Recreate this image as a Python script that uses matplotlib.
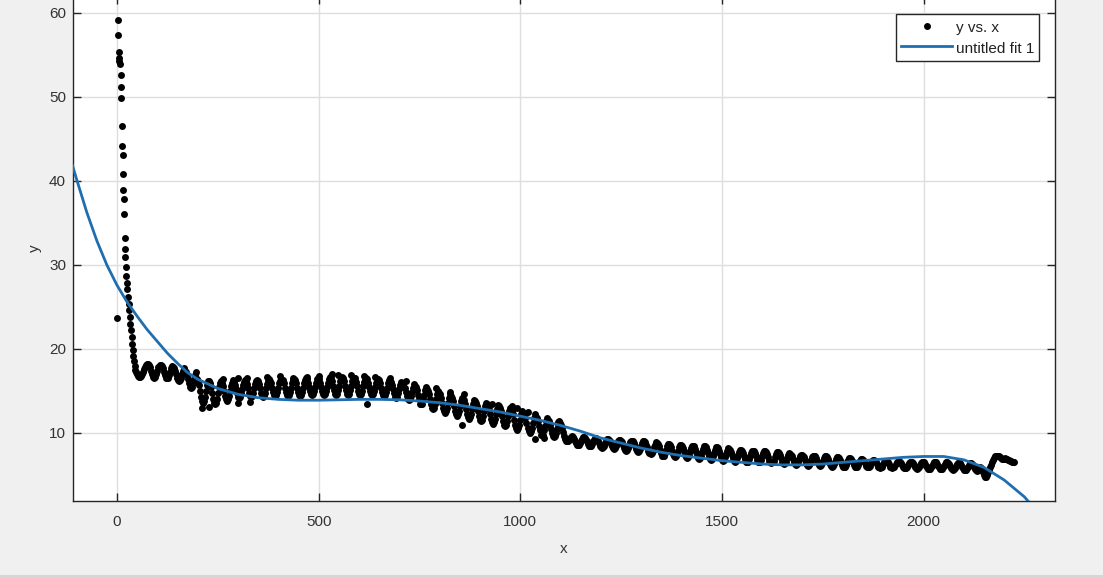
import numpy as np
import matplotlib
matplotlib.use("Agg")
import matplotlib.pyplot as plt
from matplotlib.patches import Rectangle

# ---------------- data ----------------
# initial spike
x_spike = [1, 2, 3, 4, 5, 6, 7, 9, 10, 11, 12, 13, 14, 15, 16, 17, 18, 19, 20, 21, 22, 23,
           24.5, 26, 27.5, 29, 30.5, 32, 33.5, 35, 36.5, 38, 39.5, 41, 42.5, 44, 45.5]
y_spike = [23.7, 59.2, 57.4, 55.4, 54.7, 54.3, 53.9, 52.6, 51.2, 49.9, 46.6, 44.2, 43.1, 40.8,
           38.9, 37.9, 36.1, 33.2, 31.9, 30.9, 29.8, 28.7, 27.8, 27.1, 26.2, 25.4, 24.6,
           23.8, 23.0, 22.2, 21.4, 20.6, 19.9, 19.2, 18.6, 18.0, 17.5]

# oscillating part, sampled every 2.5 units starting at x = 48 (one line = 30 units)
wave_x0 = 48
wave_dx = 2.5
y_wave = [
    17.2, 17.0, 16.8, 16.7, 16.7, 16.8, 17.0, 17.3, 17.6, 17.9, 18.1, 18.2,   # 48
    18.2, 18.1, 17.8, 17.4, 17.0, 16.7, 16.6, 16.7, 17.0, 17.4, 17.8, 18.1,   # 78
    18.1, 18.0, 17.7, 17.3, 16.9, 16.6, 16.5, 16.6, 16.9, 17.3, 17.7, 18.0,   # 108
    17.9, 17.7, 17.4, 17.0, 16.6, 16.3, 16.2, 16.3, 16.6, 17.0, 17.4, 17.7,   # 138
    17.4, 17.3, 16.9, 16.4, 15.9, 15.5, 15.4, 15.5, 15.9, 16.4, 16.9, 17.3,   # 168
    16.4, 16.2, 15.7, 15.0, 14.3, 13.8, 13.6, 13.8, 14.3, 15.0, 15.7, 16.2,   # 198
    16.2, 16.0, 15.5, 14.8, 14.1, 13.6, 13.4, 13.6, 14.1, 14.8, 15.5, 16.0,   # 228
    16.2, 16.0, 15.6, 15.0, 14.4, 14.0, 13.8, 14.0, 14.4, 15.0, 15.6, 16.0,   # 258
    16.3, 16.1, 15.7, 15.2, 14.7, 14.3, 14.2, 14.3, 14.7, 15.2, 15.7, 16.1,   # 288
    16.3, 16.2, 15.8, 15.3, 14.8, 14.4, 14.3, 14.4, 14.8, 15.3, 15.8, 16.2,   # 318
    16.3, 16.2, 15.8, 15.3, 14.8, 14.4, 14.3, 14.4, 14.8, 15.3, 15.8, 16.2,   # 348
    16.4, 16.2, 15.9, 15.4, 14.9, 14.5, 14.4, 14.5, 14.9, 15.4, 15.9, 16.2,   # 378
    16.4, 16.3, 15.9, 15.4, 14.9, 14.5, 14.4, 14.5, 14.9, 15.4, 15.9, 16.3,   # 408
    16.4, 16.3, 15.9, 15.4, 14.9, 14.5, 14.4, 14.5, 14.9, 15.4, 15.9, 16.3,   # 438
    16.5, 16.4, 16.0, 15.5, 15.0, 14.6, 14.5, 14.6, 15.0, 15.5, 16.0, 16.4,   # 468
    16.5, 16.4, 16.0, 15.5, 15.0, 14.6, 14.5, 14.6, 15.0, 15.5, 16.0, 16.4,   # 498
    16.7, 16.6, 16.2, 15.6, 15.1, 14.6, 14.5, 14.6, 15.1, 15.6, 16.2, 16.6,   # 528
    16.7, 16.6, 16.2, 15.6, 15.1, 14.6, 14.5, 14.6, 15.1, 15.6, 16.2, 16.6,   # 558
    16.6, 16.5, 16.1, 15.6, 15.0, 14.6, 14.5, 14.6, 15.0, 15.6, 16.1, 16.5,   # 588
    16.5, 16.4, 16.0, 15.5, 15.0, 14.6, 14.5, 14.6, 15.0, 15.5, 16.0, 16.4,   # 618
    16.4, 16.3, 15.9, 15.4, 14.9, 14.5, 14.4, 14.5, 14.9, 15.4, 15.9, 16.3,   # 648
    16.2, 16.1, 15.7, 15.2, 14.7, 14.3, 14.2, 14.3, 14.7, 15.2, 15.7, 16.1,   # 678
    15.9, 15.8, 15.4, 14.9, 14.4, 14.0, 13.9, 14.0, 14.4, 14.9, 15.4, 15.8,   # 708
    15.6, 15.5, 15.1, 14.5, 14.0, 13.5, 13.4, 13.5, 14.0, 14.5, 15.1, 15.5,   # 738
    15.2, 15.0, 14.6, 14.0, 13.4, 13.0, 12.8, 13.0, 13.4, 14.0, 14.6, 15.0,   # 768
    14.8, 14.6, 14.2, 13.6, 13.0, 12.6, 12.4, 12.6, 13.0, 13.6, 14.2, 14.6,   # 798
    14.4, 14.2, 13.8, 13.2, 12.6, 12.2, 12.0, 12.2, 12.6, 13.2, 13.8, 14.2,   # 828
    14.1, 13.9, 13.5, 12.9, 12.3, 11.9, 11.7, 11.9, 12.3, 12.9, 13.5, 13.9,   # 858
    13.8, 13.6, 13.2, 12.6, 12.0, 11.6, 11.4, 11.6, 12.0, 12.6, 13.2, 13.6,   # 888
    13.5, 13.3, 12.9, 12.3, 11.7, 11.3, 11.1, 11.3, 11.7, 12.3, 12.9, 13.3,   # 918
    13.2, 13.0, 12.6, 12.0, 11.4, 11.0, 10.8, 11.0, 11.4, 12.0, 12.6, 13.0,   # 948
    12.8, 12.6, 12.2, 11.6, 11.0, 10.6, 10.4, 10.6, 11.0, 11.6, 12.2, 12.6,   # 978
    12.4, 12.2, 11.8, 11.2, 10.6, 10.2, 10.0, 10.2, 10.6, 11.2, 11.8, 12.2,   # 1008
    11.9, 11.8, 11.4, 10.8, 10.3, 9.8, 9.7, 9.8, 10.3, 10.8, 11.4, 11.8,      # 1038
    11.5, 11.4, 11.0, 10.5, 10.0, 9.6, 9.5, 9.6, 10.0, 10.5, 11.0, 11.4,      # 1068
    11.2, 11.0, 10.6, 10.1, 9.6, 9.3, 9.1, 9.0, 9.1, 9.2, 9.4, 9.5,          # 1098
    9.6, 9.5, 9.3, 9.1, 8.8, 8.6, 8.6, 8.6, 8.8, 9.1, 9.3, 9.5,              # 1128
    9.5, 9.4, 9.2, 9.0, 8.7, 8.5, 8.4, 8.5, 8.7, 9.0, 9.2, 9.4,              # 1158
    9.4, 9.3, 9.1, 8.8, 8.5, 8.3, 8.2, 8.3, 8.5, 8.8, 9.1, 9.3,              # 1188
    9.3, 9.2, 9.0, 8.7, 8.4, 8.2, 8.1, 8.2, 8.4, 8.7, 9.0, 9.2,              # 1218
    9.2, 9.1, 8.9, 8.6, 8.2, 8.0, 7.9, 8.0, 8.2, 8.6, 8.9, 9.1,              # 1248
    9.1, 9.0, 8.8, 8.4, 8.1, 7.8, 7.7, 7.8, 8.1, 8.4, 8.8, 9.0,              # 1278
    9.0, 8.9, 8.6, 8.3, 7.9, 7.6, 7.5, 7.6, 7.9, 8.3, 8.6, 8.9,              # 1308
    8.8, 8.7, 8.4, 8.0, 7.6, 7.3, 7.2, 7.3, 7.6, 8.0, 8.4, 8.7,              # 1338
    8.7, 8.6, 8.3, 7.9, 7.5, 7.2, 7.1, 7.2, 7.5, 7.9, 8.3, 8.6,              # 1368
    8.6, 8.5, 8.2, 7.8, 7.4, 7.1, 7.0, 7.1, 7.4, 7.8, 8.2, 8.5,              # 1398
    8.5, 8.4, 8.1, 7.7, 7.3, 7.0, 6.9, 7.0, 7.3, 7.7, 8.1, 8.4,              # 1428
    8.4, 8.3, 8.0, 7.6, 7.2, 6.9, 6.8, 6.9, 7.2, 7.6, 8.0, 8.3,              # 1458
    8.3, 8.2, 7.9, 7.5, 7.1, 6.8, 6.7, 6.8, 7.1, 7.5, 7.9, 8.2,              # 1488
    8.1, 8.0, 7.7, 7.4, 7.0, 6.7, 6.6, 6.7, 7.0, 7.4, 7.7, 8.0,              # 1518
    8.0, 7.9, 7.6, 7.3, 6.9, 6.6, 6.5, 6.6, 6.9, 7.3, 7.6, 7.9,              # 1548
    7.9, 7.8, 7.6, 7.2, 6.8, 6.6, 6.5, 6.6, 6.8, 7.2, 7.6, 7.8,              # 1578
    7.8, 7.7, 7.5, 7.1, 6.7, 6.5, 6.4, 6.5, 6.7, 7.1, 7.5, 7.7,              # 1608
    7.7, 7.6, 7.4, 7.0, 6.6, 6.4, 6.3, 6.4, 6.6, 7.0, 7.4, 7.6,              # 1638
    7.5, 7.4, 7.2, 6.9, 6.5, 6.3, 6.2, 6.3, 6.5, 6.9, 7.2, 7.4,              # 1668
    7.4, 7.3, 7.1, 6.8, 6.4, 6.2, 6.1, 6.2, 6.4, 6.8, 7.1, 7.3,              # 1698
    7.3, 7.2, 7.0, 6.7, 6.4, 6.2, 6.1, 6.2, 6.4, 6.7, 7.0, 7.2,              # 1728
    7.2, 7.1, 6.9, 6.6, 6.3, 6.1, 6.0, 6.1, 6.3, 6.6, 6.9, 7.1,              # 1758
    7.1, 7.0, 6.8, 6.5, 6.2, 6.0, 5.9, 6.0, 6.2, 6.5, 6.8, 7.0,              # 1788
    7.0, 6.9, 6.7, 6.5, 6.2, 6.0, 5.9, 6.0, 6.2, 6.5, 6.7, 6.9,              # 1818
    6.9, 6.8, 6.7, 6.4, 6.1, 6.0, 5.9, 6.0, 6.1, 6.4, 6.7, 6.8,              # 1848
    6.8, 6.7, 6.6, 6.3, 6.0, 5.9, 5.8, 5.9, 6.0, 6.3, 6.6, 6.7,              # 1878
    6.7, 6.6, 6.5, 6.3, 6.0, 5.9, 5.8, 5.9, 6.0, 6.3, 6.5, 6.6,              # 1908
    6.7, 6.6, 6.4, 6.2, 6.0, 5.8, 5.8, 5.8, 6.0, 6.2, 6.4, 6.6,              # 1938
    6.6, 6.5, 6.4, 6.2, 5.9, 5.8, 5.7, 5.8, 5.9, 6.2, 6.4, 6.5,              # 1968
    6.6, 6.5, 6.3, 6.1, 5.9, 5.7, 5.7, 5.7, 5.9, 6.1, 6.3, 6.5,              # 1998
    6.6, 6.5, 6.3, 6.1, 5.9, 5.7, 5.7, 5.7, 5.9, 6.1, 6.3, 6.5,              # 2028
    6.5, 6.4, 6.3, 6.1, 5.8, 5.7, 5.6, 5.7, 5.8, 6.1, 6.3, 6.4,              # 2058
    6.5, 6.4, 6.2, 6.0, 5.8, 5.6, 5.6, 5.6, 5.8, 6.0, 6.2, 6.4,              # 2088
    6.4, 6.3, 6.2, 6.0, 5.7, 5.6, 5.5, 5.6, 5.7, 5.9, 5.8, 5.6,              # 2118
    5.3, 5.0, 4.8, 4.8, 5.0, 5.3, 5.6, 5.9, 6.2, 6.5, 6.8, 7.0,              # 2148
    7.2, 7.3, 7.3, 7.3, 7.2, 7.1, 7.0, 6.9, 6.9, 6.9, 7.0, 6.9,              # 2178
    6.9, 6.8, 6.8, 6.7, 6.7, 6.6, 6.6, 6.6,                                  # 2208
]

# scattered extra points in the noisy middle band
x_extra = [212, 228, 262, 300, 300, 322, 330, 372, 404, 436, 470, 500, 532, 548, 580, 612, 619,
           640, 676, 716, 790, 826, 855, 860, 930, 980, 991, 1019, 1036, 1060, 1094]
y_extra = [13.0, 13.1, 16.4, 16.6, 13.6, 16.5, 13.7, 16.7, 16.8, 16.6, 16.7, 16.8, 17.0, 16.9,
           16.9, 16.8, 13.5, 16.7, 16.6, 16.2, 15.3, 14.9, 11.0, 14.6, 13.5, 13.2, 13.0, 12.5,
           9.3, 9.4, 11.3]

# fitted curve ("untitled fit 1")
fit_x = [-110, -100, -75, -50, -25, 0, 25, 50, 75, 100, 125, 150, 175, 200, 250, 300, 350, 400,
         450, 500, 550, 600, 650, 700, 750, 800, 850, 900, 950, 1000, 1050, 1100, 1150, 1200,
         1250, 1300, 1350, 1400, 1450, 1500, 1550, 1600, 1650, 1700, 1750, 1800, 1850, 1900,
         1950, 2000, 2050, 2100, 2150, 2200, 2250, 2275]
fit_y = [41.8, 40.2, 36.3, 32.9, 30.0, 27.6, 25.6, 23.9, 22.3, 20.9, 19.5, 18.3, 17.2, 16.4,
         15.3, 14.6, 14.2, 14.0, 13.9, 13.9, 13.95, 14.0, 14.0, 13.95, 13.8, 13.6, 13.3, 12.9,
         12.5, 12.0, 11.5, 10.9, 10.2, 9.4, 8.8, 8.2, 7.7, 7.3, 7.0, 6.7, 6.5, 6.3, 6.2, 6.2,
         6.3, 6.5, 6.7, 6.9, 7.1, 7.2, 7.2, 6.8, 5.9, 4.4, 2.4, 1.0]

x_ticks = [0, 500, 1000, 1500, 2000]
y_ticks = [10, 20, 30, 40, 50, 60]

# ---------------- assemble ----------------
x_wave = wave_x0 + wave_dx * np.arange(len(y_wave))
x_all = np.concatenate([x_spike, x_wave, x_extra])
y_all = np.concatenate([y_spike, y_wave, y_extra])

plt.rcParams['font.family'] = ['Liberation Sans', 'DejaVu Sans']

W, H = 1103, 578
fig = plt.figure(figsize=(W / 100, H / 100), dpi=100, facecolor='#f0f0f0')

ax_l, ax_r, ax_b, ax_t = 73, 1055, 501, -3.8
ax = fig.add_axes([ax_l / W, (H - ax_b) / H, (ax_r - ax_l) / W, (ax_b - ax_t) / H])
ax.set_facecolor('white')

ax.plot(x_all, y_all, linestyle='none', marker='o', ms=5.0, color='black',
        mec='none', label='y vs. x', zorder=3)
ax.plot(fit_x, fit_y, color='#1f6fb0', lw=2.0, label='untitled fit 1', zorder=4)

ax.set_xlim(-109, 2326)
ax.set_ylim(1.9, 62)
ax.set_xticks(x_ticks)
ax.set_yticks(y_ticks)

ax.grid(True, color='#dedede', lw=1.0)
ax.set_axisbelow(True)

for s in ax.spines.values():
    s.set_color('#262626')
    s.set_linewidth(1.0)

ax.tick_params(direction='in', length=5.5, width=1.0, color='#262626',
               top=True, right=True, labelsize=11, labelcolor='#333333')
ax.tick_params(axis='x', pad=10)
ax.tick_params(axis='y', pad=5)

ax.set_xlabel('x', fontsize=11, color='#333333')
ax.set_ylabel('y', fontsize=11, color='#333333')
ax.xaxis.set_label_coords(0.5, -0.081)
ax.yaxis.set_label_coords(-0.032, 0.5)

leg = ax.legend(loc='upper right', bbox_to_anchor=((1039 - ax_l) / (ax_r - ax_l),
                                                   (ax_b - 14) / (ax_b - ax_t)),
                borderaxespad=0, fontsize=11, frameon=True, fancybox=False,
                framealpha=1, edgecolor='#262626', handlelength=3.3, handleheight=1.2,
                handletextpad=0.25, borderpad=0.33, labelspacing=0.3, numpoints=1)
leg.get_frame().set_linewidth(1.0)
for t in leg.get_texts():
    t.set_color('#222222')

fig.patches.append(Rectangle((0, 0), 1, 3 / H, transform=fig.transFigure,
                             facecolor='#d6d6d6', edgecolor='none'))

fig.savefig('out.png', dpi=100, facecolor=fig.get_facecolor())
